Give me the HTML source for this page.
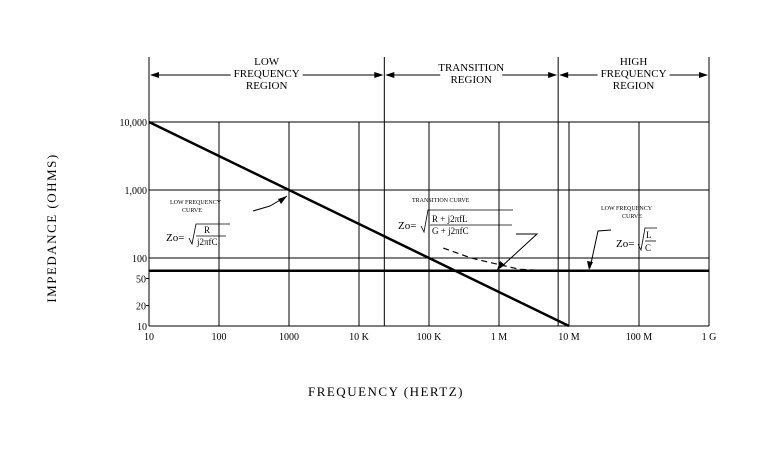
<!DOCTYPE html>
<html><head><meta charset="utf-8"><style>
html,body{margin:0;padding:0;background:#fff}
svg{display:block;font-family:"Liberation Serif",serif}
</style></head><body>
<svg id="chart" width="766" height="454" viewBox="0 0 766 454">
<g id="grid"></g>
<g id="regions"></g>
<g id="marks"></g>
<g id="labels" font-size="10"></g>
<text x="56" y="228" font-size="13" text-anchor="middle" transform="rotate(-90 56 228)" letter-spacing="1.5">IMPEDANCE (OHMS)</text>
<text x="386" y="396" font-size="13" text-anchor="middle" letter-spacing="1.5">FREQUENCY (HERTZ)</text>
<g font-size="6">
<text x="170" y="204">LOW FREQUENCY</text><text x="182" y="212">CURVE</text>
<polyline points="253,211 270,206 287,196" fill="none" stroke="#000" stroke-width="1"/>
<polygon points="287,196 278,199 281,204" fill="#000"/>
<text x="166" y="241" font-size="11">Zo=</text>
<path d="M189,238 l3,6 l4,-20 h34" fill="none" stroke="#000" stroke-width="0.8"/>
<text x="204" y="233" font-size="9">R</text><line x1="196" y1="236" x2="226" y2="236" stroke="#000" stroke-width="0.8"/>
<text x="197" y="245" font-size="9">j2πfC</text>
</g>
<g font-size="6">
<text x="412" y="202">TRANSITION CURVE</text>
<text x="398" y="229" font-size="11">Zo=</text>
<path d="M421,226 l3,6 l4,-22 h85" fill="none" stroke="#000" stroke-width="0.8"/>
<text x="432" y="222" font-size="9">R  +  j2πfL</text><line x1="430" y1="225" x2="512" y2="225" stroke="#000" stroke-width="0.8"/>
<text x="432" y="234" font-size="9">G  +  j2πfC</text>
<polyline points="516,234 537,234 500,268" fill="none" stroke="#000" stroke-width="1"/>
<polygon points="497,270 500,261 505,265" fill="#000"/>
</g>
<g font-size="6">
<text x="601" y="210">LOW FREQUENCY</text><text x="622" y="218">CURVE</text>
<polyline points="611,230 598,231 590,268" fill="none" stroke="#000" stroke-width="1"/>
<polygon points="589,270 587,261 593,262" fill="#000"/>
<text x="616" y="247" font-size="11">Zo=</text>
<path d="M638,244 l3,6 l4,-22 h12" fill="none" stroke="#000" stroke-width="0.8"/>
<text x="646" y="238" font-size="9">L</text><line x1="645" y1="241" x2="656" y2="241" stroke="#000" stroke-width="0.8"/>
<text x="645" y="251" font-size="9">C</text>
</g>
</svg>
<script>
const xTicks = [10,100,1000,1e4,1e5,1e6,1e7,1e8,1e9];
const xTickLabels = ["10","100","1000","10  K","100  K","1  M","10  M","100  M","1  G"];
const yMajor = [10000,1000,100,10];
const yMajorLabels = ["10,000","1,000","100","10"];
const yMinor = [50,20];
const yMinorLabels = ["50","20"];
const extraGrid = [2.3e4,7e6];
const boundaries = [10,2.3e4,7e6,1e9];
const regionNames = [["LOW","FREQUENCY","REGION"],["TRANSITION","REGION"],["HIGH","FREQUENCY","REGION"]];
const lowFreqF = [10,1e7];
const lowFreqZ = [10000,10];
const transF = [1.6e5,4e5,1e6,2e6,4e6];
const transZ = [140,100,80,68,66];
const charZ = 65;

const X0=149,X1=709,Y0=326,Y1=122;
const x=f=>X0+(Math.log10(f)-1)/8*(X1-X0);
const y=z=>Y0-(Math.log10(z)-1)/3*(Y0-Y1);
const NS="http://www.w3.org/2000/svg";
function mk(p,t,a){const e=document.createElementNS(NS,t);for(const k in a)e.setAttribute(k,a[k]);p.appendChild(e);return e;}
const grid=document.getElementById('grid'),marks=document.getElementById('marks'),labels=document.getElementById('labels'),reg=document.getElementById('regions');

xTicks.forEach((f,i)=>{
 const l=mk(grid,'line',{x1:x(f),x2:x(f),y1:Y1,y2:Y0,stroke:'#000','stroke-width':1});
 
 
 const t=mk(labels,'text',{x:x(f),y:Y0+14,'text-anchor':'middle','xml:space':'preserve'});
 t.textContent=xTickLabels[i];
 
 
});
extraGrid.forEach(f=>{
 const l=mk(grid,'line',{x1:x(f),x2:x(f),y1:Y1,y2:Y0,stroke:'#000','stroke-width':1});
 
 
});
yMajor.forEach((z,i)=>{
 const l=mk(grid,'line',{x1:X0,x2:X1,y1:y(z),y2:y(z),stroke:'#000','stroke-width':1});
 
 
 const t=mk(labels,'text',{x:X0-2,y:y(z)+4,'text-anchor':'end'});
 t.textContent=yMajorLabels[i];
 
 
});
yMinor.forEach((z,i)=>{
 const l=mk(grid,'line',{x1:X0-3,x2:X0,y1:y(z),y2:y(z),stroke:'#000','stroke-width':1});
 
 
 const t=mk(labels,'text',{x:X0-3,y:y(z)+4,'text-anchor':'end'});
 t.textContent=yMinorLabels[i];
 
 
});
boundaries.forEach(f=>{
 const l=mk(reg,'line',{x1:x(f),x2:x(f),y1:57,y2:Y1,stroke:'#000','stroke-width':1});
 
 
});
regionNames.forEach((lines,i)=>{
 const a=x(boundaries[i]),b=x(boundaries[i+1]),c=(a+b)/2;
 const w=lines.length===3?72:62;
 const g=mk(reg,'g',{});
 
 
 mk(g,'line',{x1:a+2,x2:c-w/2,y1:75,y2:75,stroke:'#000'});
 mk(g,'line',{x1:c+w/2,x2:b-2,y1:75,y2:75,stroke:'#000'});
 mk(g,'polygon',{points:`${a+1},75 ${a+10},72 ${a+10},78`,fill:'#000'});
 mk(g,'polygon',{points:`${b-1},75 ${b-10},72 ${b-10},78`,fill:'#000'});
 lines.forEach((s,j)=>{
  const t=mk(reg,'text',{x:c,y:(lines.length===3?65:71)+j*12,'text-anchor':'middle','font-size':11});
  t.textContent=s;
  
  
 });
});
const lf=mk(marks,'line',{x1:x(lowFreqF[0]),y1:y(lowFreqZ[0]),x2:x(lowFreqF[1]),y2:y(lowFreqZ[1]),stroke:'#000','stroke-width':2.5});


const tc=mk(marks,'polyline',{points:transF.map((f,i)=>x(f)+','+y(transZ[i])).join(' '),fill:'none',stroke:'#000','stroke-width':1.2,'stroke-dasharray':'6,4'});


const cz=mk(marks,'line',{x1:X0,x2:X1,y1:y(charZ),y2:y(charZ),stroke:'#000','stroke-width':2.5});


</script>
</body></html>
